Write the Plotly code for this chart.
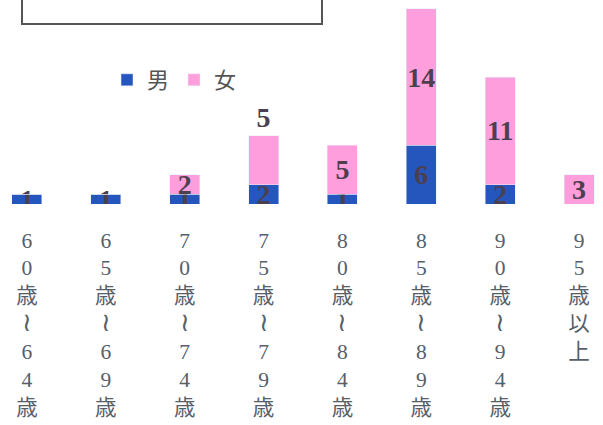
import plotly.graph_objects as go

# 年齢区分（縦書き）
categorias = ["60歳～64歳", "65歳～69歳", "70歳～74歳", "75歳～79歳",
              "80歳～84歳", "85歳～89歳", "90歳～94歳", "95歳以上"]
hombres = [1, 1, 1, 2, 1, 6, 2, 0]
mujeres = [0, 0, 2, 5, 5, 14, 11, 3]

# etiquetas verticales: un carácter por línea
def vertical(cat):
    partes = []
    for c in cat:
        if c == "～":
            partes.append("<span style='font-size:26px'>≀</span>")
        else:
            partes.append(c)
    return "<br>".join(partes)

etiquetas = [vertical(cat) for cat in categorias]

color_hombre = "#2556BE"
color_mujer = "#FF9EDC"
color_texto = "#4A4050"
fuente_num = "Liberation Serif, DejaVu Serif"

texto_h = [str(v) if v > 0 else "" for v in hombres]
texto_m = [str(v) if v > 0 else "" for v in mujeres]
pos_m = ["inside"] * len(mujeres)
pos_m[3] = "outside"

fig = go.Figure()
fig.add_trace(go.Bar(x=etiquetas, y=hombres, name="男", marker_color=color_hombre,
                     text=texto_h, textposition="inside", insidetextanchor="middle",
                     constraintext="none", textangle=0,
                     textfont=dict(family=fuente_num, size=28, color=color_texto, weight="bold")))
fig.add_trace(go.Bar(x=etiquetas, y=mujeres, name="女", marker_color=color_mujer,
                     text=texto_m, textposition=pos_m, insidetextanchor="middle",
                     constraintext="none", textangle=0, cliponaxis=False,
                     textfont=dict(family=fuente_num, size=28, color=color_texto, weight="bold")))

# recuadro del título (cortado en el escaneo)
fig.add_shape(type="rect", xref="paper", yref="paper",
              x0=22 / 603, x1=322 / 603, y0=1 - 24 / 204, y1=1.05,
              line=dict(color="#555555", width=2))

fig.update_layout(
    width=603, height=425,
    barmode="stack", bargap=0.62,
    margin=dict(l=0, r=0, t=0, b=221, autoexpand=False),
    paper_bgcolor="white", plot_bgcolor="white",
    showlegend=True,
    legend=dict(orientation="h", x=107 / 603, y=1 - 80 / 204, xanchor="left", yanchor="middle",
                traceorder="normal",
                font=dict(family="Liberation Serif, Noto Sans CJK JP", size=22, color="#555555"),
                bgcolor="rgba(0,0,0,0)", itemwidth=30, tracegroupgap=0),
    font=dict(family="Liberation Serif, Noto Sans CJK JP"),
)
fig.update_xaxes(range=[-0.342, 7.304], automargin=False, showline=False, showgrid=False, ticks="",
                 tickangle=0, ticklabelstandoff=21,
                 tickfont=dict(family="Liberation Serif, Noto Sans CJK JP", size=21.5, color="#56606A"))
fig.update_yaxes(range=[0, 20.92], visible=False, showgrid=False, automargin=False)

# quitar el margen por defecto del body para que la figura ocupe toda la ventana
fig.write_html("out.html", config={"displayModeBar": False},
               post_script="document.body.style.margin='0';")
